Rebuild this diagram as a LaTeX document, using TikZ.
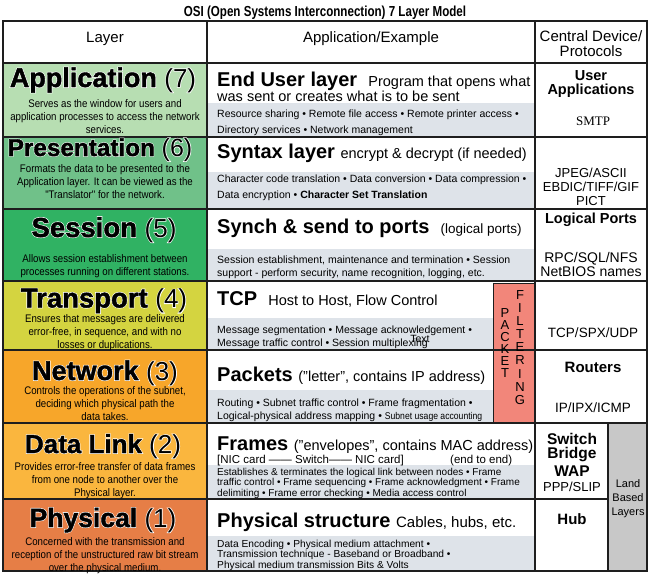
\documentclass[tikz,border=0pt]{standalone}
\usepackage{fontspec}
\setmainfont{Liberation Sans}
\newfontfamily\narrowsf[FakeStretch=0.88]{Liberation Sans}
\newfontfamily\condsf[FakeStretch=0.8]{Liberation Sans}
\newfontfamily\heavysf[BoldFeatures={FakeBold=1.5}]{Liberation Sans}
\newfontfamily\halosf[UprightFeatures={FakeBold=5}, BoldFeatures={FakeBold=6}]{Liberation Sans}
\newfontfamily\timesf{Liberation Serif}
\newcommand\fs[1]{\fontsize{#1}{#1}\selectfont}
\definecolor{appc}{RGB}{183,222,178}
\definecolor{presc}{RGB}{112,193,137}
\definecolor{sessc}{RGB}{48,178,99}
\definecolor{transc}{RGB}{212,212,64}
\definecolor{netc}{RGB}{247,166,42}
\definecolor{dlc}{RGB}{250,182,62}
\definecolor{physc}{RGB}{230,126,70}
\definecolor{redc}{RGB}{242,134,122}
\definecolor{landc}{RGB}{200,200,200}
\definecolor{graybg}{RGB}{222,227,233}
\definecolor{gridc}{RGB}{30,30,30}
% layer title with white halo: name, x, y, word size, word, number size, number
\newcommand\lt[7]{%
  \node[ttl, text=white] at (#2,#3) {\halosf\fs{#4}\bfseries #5 {\mdseries\fs{#6}(#7)}};
  \node[ttl] (#1) at (#2,#3) {\heavysf\fs{#4}\bfseries #5 {\mdseries\fs{#6}(#7)}};}
\begin{document}
\begin{tikzpicture}[x=1pt,y=-1pt,
  grid/.style={line width=1.4pt, draw=gridc},
  ttl/.style={anchor=base, inner sep=0pt},
  desc/.style={inner sep=0pt, align=center, font=\narrowsf\fontsize{11}{13}\selectfont},
  head/.style={anchor=base west, inner sep=0pt},
  gtxt/.style={anchor=base west, inner sep=0pt, font=\fs{10.5}},
  rt/.style={inner sep=0pt, align=center},
  hdr/.style={inner sep=0pt, align=center, font=\fs{15}},
  pf/.style={inner sep=0pt, font=\fs{13}}]
\useasboundingbox (0,0) rectangle (650,576);
\fill[white] (0,0) rectangle (650,576);
% left colour cells
\fill[appc] (3,63) rectangle (207,137);
\fill[presc] (3,137) rectangle (207,209);
\fill[sessc] (3,209) rectangle (207,281);
\fill[transc] (3,281) rectangle (207,350);
\fill[netc] (3,350) rectangle (207,423);
\fill[dlc] (3,423) rectangle (207,499);
\fill[physc] (3,499) rectangle (207,571);
% grey strips
\fill[graybg] (207,103) rectangle (535,137);
\fill[graybg] (207,172) rectangle (535,209);
\fill[graybg] (207,249) rectangle (535,281);
\fill[graybg] (207,318) rectangle (535,350);
\fill[graybg] (207,390) rectangle (535,423);
\fill[graybg] (207,465) rectangle (535,499);
\fill[graybg] (207,536) rectangle (535,571);
% packet filtering and land based boxes
\filldraw[fill=redc, draw=gridc, line width=0.6pt] (493,283) rectangle (535,423);
\fill[landc] (608,423) rectangle (647,571);
% grid
\draw[grid] (3,21) rectangle (647,571);
\draw[grid] (207,21) -- (207,571);
\draw[grid] (535,21) -- (535,571);
\draw[grid] (608,423) -- (608,571);
\foreach \yy in {63,137,209,281,350,423} \draw[grid] (3,\yy) -- (647,\yy);
\draw[grid] (3,499) -- (608,499);

% title and header
\node[inner sep=0pt, anchor=base, font=\condsf\bfseries\fs{14.5}] (title) at (325,16) {OSI (Open Systems Interconnection) 7 Layer Model};
\node[hdr, anchor=base] (hl) at (105,42) {Layer};
\node[hdr, anchor=base] (ha) at (371,42) {Application/Example};
\node[hdr, anchor=base] (hc1) at (591,41.5) {Central Device/};
\node[hdr, anchor=base] (hc2) at (591,56.5) {Protocols};

% layer titles
\lt{l7}{103}{87}{27}{Application}{26}{7}
\lt{l6}{100}{156}{24.3}{Presentation}{25}{6}
\lt{l5}{104}{237}{27.5}{Session}{26}{5}
\lt{l4}{104}{307.5}{27.5}{Transport}{26}{4}
\lt{l3}{105}{380}{27}{Network}{26}{3}
\lt{l2}{103}{453}{26}{Data Link}{26}{2}
\lt{l1}{103}{527}{26.5}{Physical}{26}{1}

% layer descriptions
\node[desc] (d7) at (105,116.5) {Serves as the window for users and\\application processes to access the network\\services.};
\node[desc] (d6) at (105,182) {Formats the data to be presented to the\\Application layer. It can be viewed as the\\"Translator" for the network.};
\node[desc] (d5) at (105,266) {Allows session establishment between\\processes running on different stations.};
\node[desc] (d4) at (105,332.5) {Ensures that messages are delivered\\error-free, in sequence, and with no\\losses or duplications.};
\node[desc] (d3) at (105,404) {Controls the operations of the subnet,\\deciding which physical path the\\data takes.};
\node[desc] (d2) at (105,480.5) {Provides error-free transfer of data frames\\from one node to another over the\\Physical layer.};
\node[desc] (d1) at (105,555.5) {Concerned with the transmission and\\reception of the unstructured raw bit stream\\over the physical medium.};

% middle headings
\node[head] (m7a) at (217,86) {\fs{20}\bfseries End User layer\ \ \mdseries\fs{14.5}Program that opens what};
\node[head] (m7b) at (217,101.5) {\fs{14.5}was sent or creates what is to be sent};
\node[head] (m6) at (217,158) {\fs{20}\bfseries Syntax layer\ \mdseries\fs{14.5}encrypt \& decrypt (if needed)};
\node[head] (m5) at (217,233) {\fs{20}\bfseries Synch \& send to ports\ \ \mdseries\fs{13.5}(logical ports)};
\node[head] (m4) at (217,305) {\fs{20}\bfseries TCP\ \ \mdseries\fs{14.5}Host to Host, Flow Control};
\node[head] (m3) at (217,381) {\fs{20}\bfseries Packets\ \mdseries\fs{14.5}("letter", contains IP address)};
\node[head] (m2a) at (217,450) {\fs{20}\bfseries Frames\ \mdseries\fs{14.5}("envelopes", contains MAC address)};
\node[head] (m2b) at (217,463) {\fs{11.5}[NIC card —— Switch—— NIC card]};
\node[head] (m2c) at (450,463) {\fs{11.5}(end to end)};
\node[head] (m1) at (217,527) {\fs{20}\bfseries Physical structure\ \mdseries\fs{15}Cables, hubs, etc.};

% grey texts
\node[gtxt] (g7a) at (217,117) {Resource sharing • Remote file access • Remote printer access •};
\node[gtxt] (g7b) at (217,133) {Directory services • Network management};
\node[gtxt] (g6a) at (217,182) {Character code translation • Data conversion • Data compression •};
\node[gtxt] (g6b) at (217,198.5) {Data encryption • \bfseries Character Set Translation};
\node[gtxt] (g5a) at (217,263.5) {Session establishment, maintenance and termination • Session};
\node[gtxt] (g5b) at (217,276) {support - perform security, name recognition, logging, etc.};
\node[gtxt] (g4a) at (217,333) {Message segmentation • Message acknowledgement •};
\node[gtxt] (g4b) at (217,346) {Message traffic control • Session multiplexing};
\node[inner sep=0pt, font=\fs{10.5}] (stray) at (420,339) {Text};
\node[gtxt] (g3a) at (217,406.5) {Routing • Subnet traffic control • Frame fragmentation •};
\node[gtxt] (g3b) at (217,419) {Logical-physical address mapping • {\narrowsf\fs{9.8}Subnet usage accounting}};
\node[gtxt, font=\fs{10}] (g2a) at (217,475) {Establishes \& terminates the logical link between nodes • Frame};
\node[gtxt, font=\fs{10}] (g2b) at (217,485.5) {traffic control • Frame sequencing • Frame acknowledgment • Frame};
\node[gtxt, font=\fs{10}] (g2c) at (217,496) {delimiting • Frame error checking • Media access control};
\node[gtxt, font=\fs{10.2}] (g1a) at (217,547) {Data Encoding • Physical medium attachment •};
\node[gtxt, font=\fs{10.2}] (g1b) at (217,557.5) {Transmission technique - Baseband or Broadband •};
\node[gtxt, font=\fs{10.2}] (g1c) at (217,568) {Physical medium transmission Bits \& Volts};

% packet filtering letters
\foreach \ch [count=\i from 0] in {P,A,C,K,E,T}
  \node[pf] (pk\i) at (505,{313+12*\i}) {\ch};
\foreach \ch [count=\i from 0] in {F,I,L,T,E,R,I,N,G}
  \node[pf] (fi\i) at (520,{295+13.1*\i}) {\ch};

% right column
\node[rt, font=\bfseries\fs{14.5}] (r7a) at (591,76) {User};
\node[rt, font=\bfseries\fs{14.5}] (r7b) at (591,91) {Applications};
\node[rt, font=\timesf\fs{13}] (r7c) at (593,121) {SMTP};
\node[rt, font=\fs{13}] (r6a) at (591,173) {JPEG/ASCII};
\node[rt, font=\fs{13}] (r6b) at (591,187) {EBDIC/TIFF/GIF};
\node[rt, font=\fs{13}] (r6c) at (591,201) {PICT};
\node[rt, font=\bfseries\fs{14.5}] (r5a) at (591,220) {Logical Ports};
\node[rt, font=\fs{14}] (r5b) at (591,258.5) {RPC/SQL/NFS};
\node[rt, font=\fs{14}] (r5c) at (591,272) {NetBIOS names};
\node[rt, font=\fs{13.5}] (r4) at (593,333) {TCP/SPX/UDP};
\node[rt, font=\bfseries\fs{15}] (r3a) at (593,367) {Routers};
\node[rt, font=\fs{13.5}] (r3b) at (593,408) {IP/IPX/ICMP};
\node[rt, font=\bfseries\fs{15.5}] (r2a) at (572,438.5) {Switch};
\node[rt, font=\bfseries\fs{15.5}] (r2b) at (572,455) {Bridge};
\node[rt, font=\bfseries\fs{15.5}] (r2c) at (572,471) {WAP};
\node[rt, font=\fs{13}] (r2d) at (572,487) {PPP/SLIP};
\node[rt, font=\bfseries\fs{15}] (r1) at (572,519) {Hub};
\node[rt, font=\fontsize{11}{14}\selectfont] (land) at (628,499) {Land\\Based\\Layers};
\end{tikzpicture}
\end{document}
